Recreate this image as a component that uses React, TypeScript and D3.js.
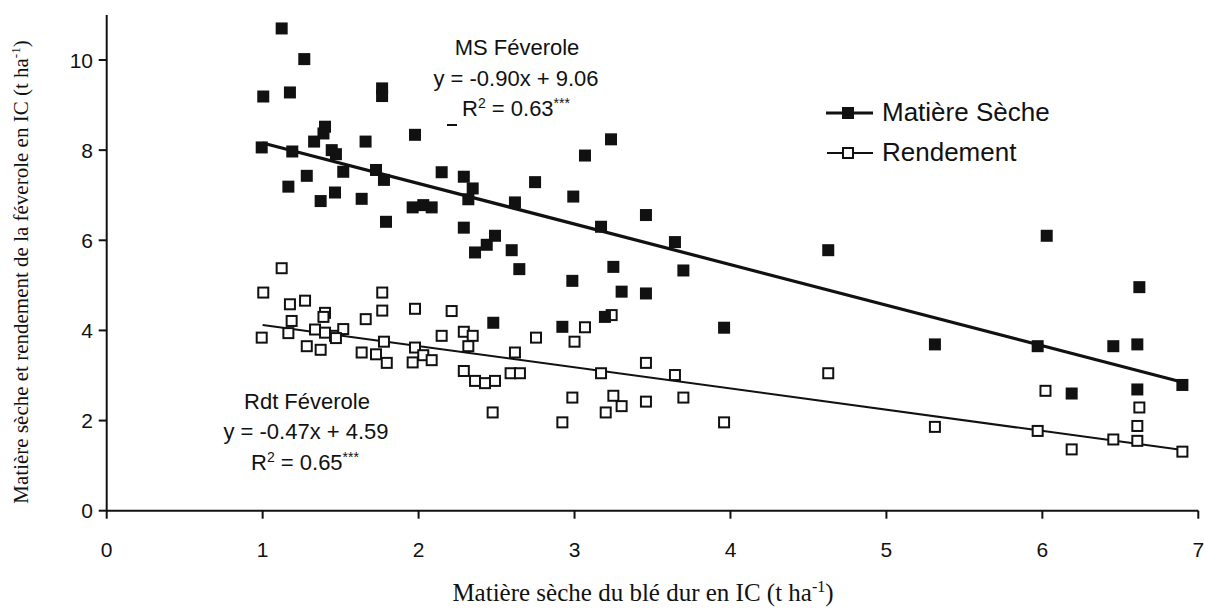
import React from "react";
import * as d3 from "d3";

const msX = [1.122,1.267,1.004,1.175,1.766,1.766,1.40,1.39,1.33,0.994,1.19,1.443,1.47,1.66,1.977,1.517,1.727,1.778,2.148,2.29,2.347,2.319,1.283,1.165,1.464,1.372,1.635,1.791,1.962,2.03,2.084,2.29,2.362,2.437,2.49,2.618,2.747,2.992,3.067,3.234,3.17,2.597,2.646,2.986,3.249,3.302,3.195,2.479,2.922,3.458,3.698,3.959,4.627,3.458,3.644,6.028,6.622,5.311,5.97,6.455,6.609,6.898,6.188,6.609];
const msY = [10.70,10.02,9.19,9.28,9.37,9.20,8.52,8.37,8.19,8.06,7.97,8.00,7.91,8.19,8.34,7.52,7.56,7.34,7.51,7.41,7.15,6.91,7.43,7.19,7.06,6.87,6.92,6.41,6.73,6.78,6.73,6.28,5.73,5.90,6.10,6.84,7.29,6.97,7.88,8.24,6.30,5.78,5.36,5.10,5.41,4.86,4.30,4.17,4.08,4.82,5.33,4.06,5.78,6.56,5.96,6.10,4.96,3.69,3.65,3.65,3.69,2.79,2.60,2.69];

const rdtX = [1.122,1.004,1.175,1.272,1.186,1.165,0.994,1.40,1.39,1.336,1.40,1.464,1.517,1.283,1.372,1.47,1.661,1.767,1.767,1.778,1.635,1.727,1.796,1.977,1.977,1.962,2.03,2.084,2.212,2.148,2.29,2.347,2.319,2.29,2.362,2.426,2.49,2.475,2.618,2.59,2.65,2.753,3.0,3.067,3.238,3.17,2.986,2.922,3.249,3.302,3.2,3.458,3.644,3.458,3.698,3.959,4.627,5.311,5.97,6.02,6.188,6.455,6.609,6.622,6.609,6.898];
const rdtY = [5.38,4.84,4.58,4.66,4.21,3.94,3.84,4.39,4.30,4.02,3.95,3.88,4.03,3.65,3.57,3.83,4.25,4.84,4.44,3.75,3.51,3.47,3.28,4.48,3.62,3.29,3.45,3.34,4.43,3.88,3.97,3.88,3.65,3.10,2.88,2.83,2.88,2.18,3.51,3.05,3.05,3.84,3.75,4.07,4.34,3.05,2.51,1.96,2.55,2.32,2.18,3.28,3.01,2.42,2.51,1.96,3.05,1.86,1.77,2.66,1.36,1.58,1.88,2.29,1.55,1.31];

const xTicks = [0,1,2,3,4,5,6,7];
const yTicks = [0,2,4,6,8,10];

const msFit = { slope: -0.90, intercept: 9.06, from: 1.0, to: 6.9 };
const rdtFit = { slope: -0.47, intercept: 4.59, from: 1.0, to: 6.9 };

const legendLabels = ["Matière Sèche", "Rendement"];

const sans = "'Liberation Sans', Arial, sans-serif";
const serif = "'Liberation Serif', 'Times New Roman', serif";

export default function App() {
  const x = d3.scaleLinear().domain([0, 7]).range([106.7, 1198.3]);
  const y = d3.scaleLinear().domain([0, 11]).range([510.7, 510.7 - 11 * 45.07]);
  const ink = "#111";
  const fs = 12;
  const os = 10;

  const fitLine = (f: { slope: number; intercept: number; from: number; to: number }) =>
    d3.line<number>().x((v) => x(v)).y((v) => y(f.slope * v + f.intercept))([f.from, f.to]) || "";

  return (
    <svg width={1205} height={609} style={{ position: "absolute", left: 0, top: 0, background: "#fff" }}>
      {/* axes */}
      <line x1={x(0)} x2={x(7)} y1={y(0)} y2={y(0)} stroke={ink} strokeWidth={2} />
      <line x1={x(0)} x2={x(0)} y1={y(0)} y2={y(11)} stroke={ink} strokeWidth={2} />
      {xTicks.map((t) => (
        <g key={"xt" + t}>
          <line x1={x(t)} x2={x(t)} y1={y(0)} y2={y(0) + 8} stroke={ink} strokeWidth={2} />
          <text x={x(t)} y={557} textAnchor="middle" fontFamily={sans} fontSize={21} fill={ink}>{t}</text>
        </g>
      ))}
      {yTicks.map((t) => (
        <g key={"yt" + t}>
          <line x1={x(0) - 8} x2={x(0)} y1={y(t)} y2={y(t)} stroke={ink} strokeWidth={2} />
          <text x={93} y={y(t) + 7.5} textAnchor="end" fontFamily={sans} fontSize={21} fill={ink}>{t}</text>
        </g>
      ))}

      {/* axis titles */}
      <text x={643} y={601} textAnchor="middle" fontFamily={serif} fontSize={25} fill={ink}>
        Matière sèche du blé dur en IC (t ha<tspan dy={-9} fontSize={16}>-1</tspan><tspan dy={9}>)</tspan>
      </text>
      <text transform="translate(28,272) rotate(-90)" textAnchor="middle" fontFamily={serif} fontSize={21} fill={ink}>
        Matière sèche et rendement de la féverole en IC (t ha<tspan dy={-8} fontSize={13}>-1</tspan><tspan dy={8}>)</tspan>
      </text>

      {/* fit lines */}
      <path d={fitLine(msFit)} stroke={ink} strokeWidth={3.2} fill="none" />
      <path d={fitLine(rdtFit)} stroke={ink} strokeWidth={2} fill="none" />

      {/* points */}
      {rdtX.map((v, i) => (
        <rect key={"r" + i} x={x(v) - os / 2} y={y(rdtY[i]) - os / 2} width={os} height={os} fill="#fff" stroke={ink} strokeWidth={2} />
      ))}
      {msX.map((v, i) => (
        <rect key={"m" + i} x={x(v) - fs / 2} y={y(msY[i]) - fs / 2} width={fs} height={fs} fill={ink} />
      ))}

      {/* annotations */}
      <g fontFamily={sans} fontSize={22} fill={ink} textAnchor="middle">
        <text x={517} y={55}>MS Féverole</text>
        <text x={516} y={86}>y = -0.90x + 9.06</text>
        <text x={516} y={116}>R<tspan dy={-8} fontSize={14}>2</tspan><tspan dy={8}> = 0.63</tspan><tspan dy={-8} fontSize={14}>***</tspan></text>
        <line x1={447} x2={457} y1={125} y2={125} stroke={ink} strokeWidth={2} />
        <text x={307} y={409}>Rdt Féverole</text>
        <text x={306} y={439}>y = -0.47x + 4.59</text>
        <text x={305} y={470}>R<tspan dy={-8} fontSize={14}>2</tspan><tspan dy={8}> = 0.65</tspan><tspan dy={-8} fontSize={14}>***</tspan></text>
      </g>

      {/* legend */}
      <g>
        <line x1={826} x2={873} y1={113} y2={113} stroke={ink} strokeWidth={3.2} />
        <rect x={848 - fs / 2} y={113 - fs / 2} width={fs} height={fs} fill={ink} />
        <text x={882} y={121} fontFamily={sans} fontSize={26} fill={ink}>{legendLabels[0]}</text>
        <line x1={827} x2={873} y1={153} y2={153} stroke={ink} strokeWidth={2} />
        <rect x={848 - os / 2} y={153 - os / 2} width={os} height={os} fill="#fff" stroke={ink} strokeWidth={2} />
        <text x={882} y={161} fontFamily={sans} fontSize={26} fill={ink}>{legendLabels[1]}</text>
      </g>
    </svg>
  );
}
